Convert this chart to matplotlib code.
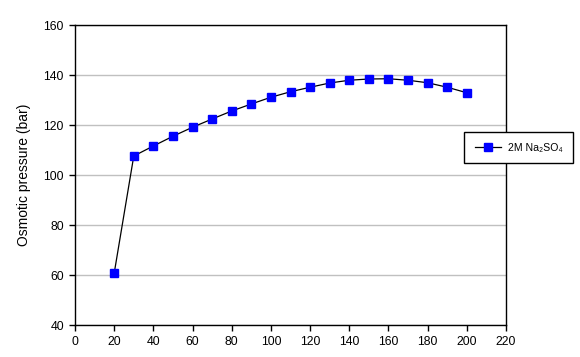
import matplotlib
matplotlib.use("Agg")
from matplotlib import pyplot as plt

plt.rcParams['font.family'] = ['Liberation Sans', 'DejaVu Sans']

concentration = [20, 30, 40, 50, 60, 70, 80, 90, 100, 110, 120, 130, 140, 150, 160, 170, 180, 190, 200]
osmotic = [60.7, 107.6, 111.6, 115.5, 119.1, 122.4, 125.6, 128.4, 131.1, 133.3, 135.1,
           136.8, 137.9, 138.4, 138.5, 137.9, 136.9, 135.1, 132.9]
series_label = "2M Na\u2082SO\u2084"

fig = plt.figure(figsize=(5.8, 3.57), dpi=100)
ax = fig.add_axes([75 / 580, 1 - 325 / 357, (506 - 75) / 580, 300 / 357])

line, = ax.plot(concentration, osmotic, color='black', linewidth=0.9,
                marker='s', markersize=6, markerfacecolor='#0000ff',
                markeredgecolor='#0000ff', label=series_label)

ax.set_xlim(0, 220)
ax.set_ylim(40, 160)
ax.set_xticks(range(0, 221, 20))
ax.set_yticks(range(40, 161, 20))
ax.yaxis.grid(True, color='#c0c0c0', linewidth=1)
ax.set_axisbelow(True)
ax.tick_params(direction='out', length=4, width=1, labelsize=8.8, colors='black', pad=4)
for s in ax.spines.values():
    s.set_color('black')
    s.set_linewidth(1)

ax.set_ylabel('Osmotic pressure (bar)', fontsize=10, labelpad=9)

leg = fig.legend(handles=[line], loc='upper left', bbox_to_anchor=(464 / 580, 1 - 132 / 357),
                 fancybox=False, edgecolor='black', framealpha=1, fontsize=7.6,
                 borderaxespad=0, handlelength=2.5, handletextpad=0.65, borderpad=1.0)
leg.get_frame().set_linewidth(1)

plt.savefig("out.png", dpi=100)
